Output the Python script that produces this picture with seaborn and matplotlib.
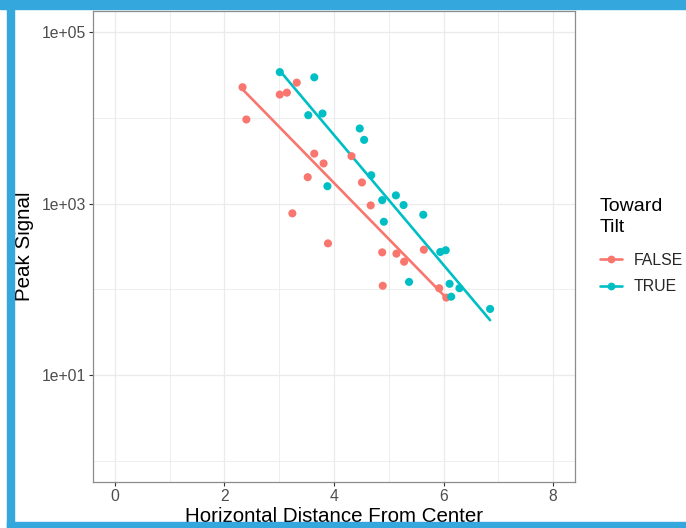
import matplotlib
matplotlib.use("Agg")
import matplotlib.pyplot as plt
from matplotlib.lines import Line2D
from matplotlib.patches import Rectangle
import numpy as np
import pandas as pd
import seaborn as sns

# data (peak signal vs horizontal distance)
false_dist = [2.33, 2.40, 3.01, 3.14, 3.32, 3.64, 3.81, 3.52, 3.24, 3.89,
              4.32, 4.51, 4.67, 4.88, 4.89, 5.14, 5.28, 5.64, 5.92, 6.05]
false_peak = [22900, 9620, 18800, 19800, 25900, 3840, 2950, 2040, 771, 344,
              3590, 1770, 955, 270, 110, 261, 210, 290, 103, 80]
true_dist = [3.01, 3.64, 3.53, 3.79, 3.88, 4.47, 4.55, 4.68, 4.88, 5.13,
             5.27, 4.91, 5.63, 5.94, 6.04, 5.37, 6.11, 6.29, 6.14, 6.85]
true_peak = [34400, 29900, 10800, 11300, 1600, 7550, 5560, 2150, 1100, 1250,
             964, 615, 743, 273, 286, 122, 116, 103, 82, 59]

groups = ["FALSE", "TRUE"]
colors = {"FALSE": "#F8766D", "TRUE": "#00BFC4"}
y_ticks = [1, 3, 5]
y_tick_labels = ["1e+01", "1e+03", "1e+05"]
x_ticks = [0, 2, 4, 6, 8]

df = pd.DataFrame({
    "dist": false_dist + true_dist,
    "peak": false_peak + true_peak,
    "tilt": ["FALSE"] * len(false_dist) + ["TRUE"] * len(true_dist),
})
df["logpeak"] = np.log10(df["peak"])

sns.set_theme(style="white")
plt.rcParams["font.family"] = ["Liberation Sans", "DejaVu Sans"]

W, H = 686, 528
fig = plt.figure(figsize=(W / 100, H / 100), dpi=100)
fig.patch.set_facecolor("white")
ax = fig.add_axes([93 / W, (H - 482) / H, (575 - 93) / W, (482 - 11) / H])

# grid like theme_bw
for v in [1, 3, 5, 7]:
    ax.axvline(v, color="#EBEBEB", lw=0.6, zorder=0)
for v in x_ticks:
    ax.axvline(v, color="#EBEBEB", lw=0.9, zorder=0)
for v in [0, 2, 4]:
    ax.axhline(v, color="#EBEBEB", lw=0.6, zorder=0)
for v in y_ticks:
    ax.axhline(v, color="#EBEBEB", lw=0.9, zorder=0)

sns.scatterplot(data=df, x="dist", y="logpeak", hue="tilt", palette=colors,
                s=34, linewidth=0, legend=False, ax=ax, zorder=3)
for g in groups:
    sub = df[df["tilt"] == g]
    sns.regplot(data=sub, x="dist", y="logpeak", scatter=False, ci=None,
                color=colors[g], line_kws={"lw": 1.9, "zorder": 2}, ax=ax)

ax.set_xlim(-0.4, 8.4)
ax.set_ylim(-0.25, 5.25)
ax.set_xticks(x_ticks)
ax.set_xticklabels([str(v) for v in x_ticks])
ax.set_yticks(y_ticks)
ax.set_yticklabels(y_tick_labels)
ax.set_xlabel("")
ax.set_ylabel("")
ax.tick_params(axis="both", length=3, width=0.8, color="#333333",
               labelcolor="#4D4D4D", labelsize=11.3, pad=2, direction="out")
ax.tick_params(axis="both", which="both", bottom=True, left=True)
for sp in ax.spines.values():
    sp.set_color("#8c8c8c")
    sp.set_linewidth(0.9)

fig.text(24.5 / W, 1 - 246.5 / H, "Peak Signal", rotation=90, ha="center",
         va="center", fontsize=14.8, color="black")
fig.text(334 / W, 1 - 522 / H, "Horizontal Distance From Center", ha="center",
         va="baseline", fontsize=14.8, color="black")

# legend title as its own text, entries below
fig.text(600 / W, 1 - 198 / H, "Toward\nTilt", ha="left", va="top",
         fontsize=14, linespacing=1.32, color="black")
handles = [Line2D([0], [0], color=colors[g], lw=1.9, marker="o", markersize=5.6,
                  markeredgewidth=0) for g in groups]
leg = fig.legend(handles, groups, loc="center left",
                 bbox_to_anchor=(600 / W, 1 - 273.5 / H), frameon=False,
                 fontsize=11.4, borderpad=0, borderaxespad=0, handlelength=1.4,
                 handletextpad=0.75, labelspacing=0.74)

# blue screenshot frame
blue = "#34a7dc"
fig.patches.append(Rectangle((0, 1 - 9 / H), 1, 9 / H, transform=fig.transFigure,
                             color=blue, zorder=10))
fig.patches.append(Rectangle((7 / W, 0), 7 / W, 1, transform=fig.transFigure,
                             color=blue, zorder=10))
fig.patches.append(Rectangle((7 / W, 0), 1, 6 / H, transform=fig.transFigure,
                             color=blue, zorder=10))

fig.savefig("out.png", dpi=100)
